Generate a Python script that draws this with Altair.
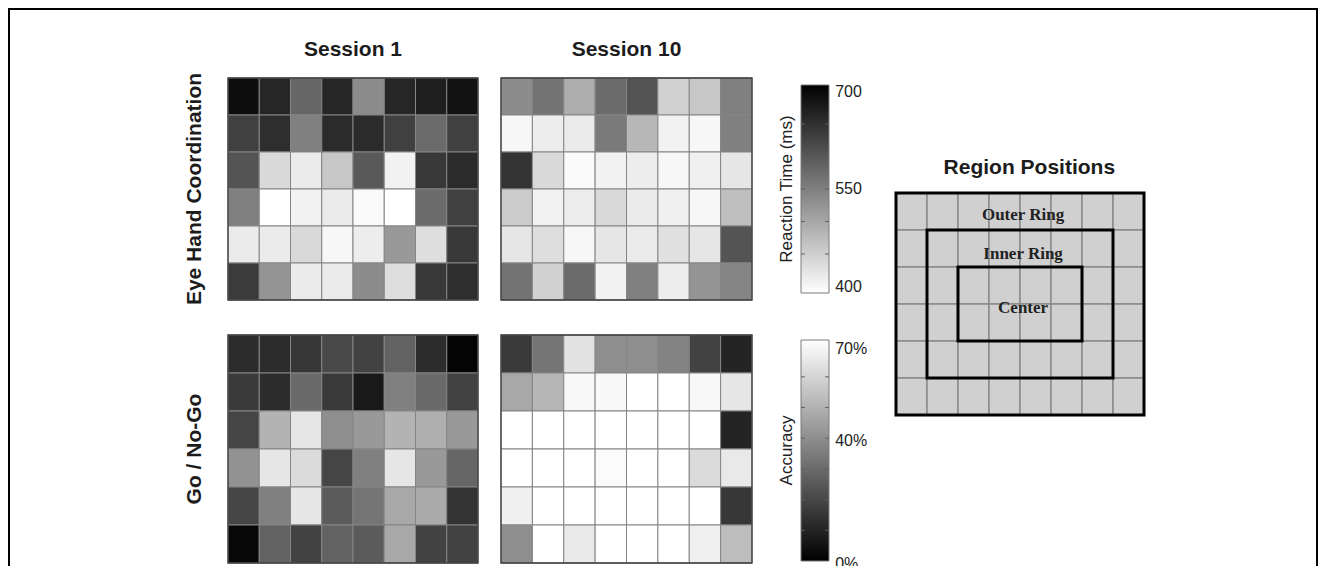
import altair as alt
import pandas as pd

# ---------------- data ----------------
n_cols = 8
n_rows = 6

# Reaction time (ms), Eye Hand Coordination task, rows top -> bottom
rt_session1 = [
    [685, 655, 580, 655, 535, 655, 664, 679],
    [625, 646, 550, 649, 649, 625, 574, 625],
    [601, 445, 424, 466, 595, 415, 634, 649],
    [550, 400, 415, 424, 406, 400, 574, 625],
    [424, 424, 445, 409, 421, 520, 439, 634],
    [631, 526, 424, 424, 535, 439, 634, 646],
]
rt_session10 = [
    [535, 565, 496, 574, 601, 454, 466, 550],
    [409, 421, 424, 556, 484, 415, 409, 550],
    [640, 445, 406, 415, 421, 409, 418, 430],
    [460, 415, 421, 445, 424, 418, 409, 475],
    [430, 439, 409, 430, 424, 436, 430, 601],
    [565, 454, 574, 415, 550, 421, 526, 544],
]
# Accuracy (%), Go / No-Go task
acc_session1 = [
    [12, 12, 15, 20, 18, 27, 12, 1],
    [16, 12, 29, 16, 7, 35, 29, 18],
    [19, 49, 63, 39, 42, 49, 48, 42],
    [40, 63, 60, 19, 35, 63, 42, 28],
    [19, 35, 63, 25, 32, 46, 47, 14],
    [2, 27, 18, 27, 25, 46, 18, 18],
]
acc_session10 = [
    [16, 32, 62, 39, 39, 36, 18, 10],
    [46, 50, 68, 68, 70, 70, 68, 63],
    [70, 70, 70, 70, 70, 70, 70, 10],
    [70, 70, 70, 69, 70, 70, 60, 64],
    [66, 70, 70, 70, 70, 70, 70, 15],
    [39, 70, 64, 70, 70, 70, 66, 52],
]

session_titles = ["Session 1", "Session 10"]
task_labels = ["Eye Hand Coordination", "Go / No-Go"]

rt_title = "Reaction Time (ms)"
rt_color_domain = [400, 700]
rt_limits = [390, 710]
rt_labels = [400, 550, 700]
rt_minor = [450, 500, 550, 600, 650]

acc_title = "Accuracy"
acc_color_domain = [0, 70]
acc_limits = [0, 72]
acc_labels = [0, 40, 70]
acc_minor = [10, 20, 30, 40, 50, 60]

region_title = "Region Positions"
ring_names = ["Outer Ring", "Inner Ring", "Center"]
ring_col_start = [0, 1, 2]
ring_col_end = [8, 7, 6]
ring_row_start = [0, 1, 2]
ring_row_end = [6, 5, 4]

# ---------------- layout ----------------
W, H = 1310, 562
SANS = "Liberation Sans"
SERIF = "Liberation Serif"

# (left, right, top, bottom) in pixels inside the framed view
BOX = {
    "p1": (220, 470, 70, 292),
    "p2": (493, 744, 70, 292),
    "p3": (220, 470, 327, 555),
    "p4": (493, 744, 327, 555),
    "cb1": (793, 821, 77, 285),
    "cb2": (793, 821, 332, 553),
    "region": (888, 1136, 185, 407),
}


def x_scale(left, right, v_left, v_right):
    upp = (v_right - v_left) / (right - left)
    d0 = v_left - left * upp
    return alt.Scale(domain=[d0, d0 + W * upp], nice=False, zero=False)


def y_scale(top, bottom, v_top, v_bottom):
    upp = (v_bottom - v_top) / (bottom - top)
    at_top = v_top - top * upp
    at_bottom = at_top + H * upp
    if at_bottom > at_top:
        return alt.Scale(domain=[at_top, at_bottom], reverse=True, nice=False, zero=False)
    return alt.Scale(domain=[at_bottom, at_top], nice=False, zero=False)


rt_color = alt.Scale(domain=rt_color_domain, range=["white", "black"], interpolate="rgb", clamp=True)
acc_color = alt.Scale(domain=acc_color_domain, range=["black", "white"], interpolate="rgb", clamp=True)


def grid_frame(values):
    return pd.DataFrame(
        [{"col": c, "row": r, "value": v}
         for r, row_vals in enumerate(values) for c, v in enumerate(row_vals)]
    )


def heat_panel(values, box, cscale, title=None, row_label=None):
    l, r, t, b = box
    sx = x_scale(l, r, 0, n_cols)
    sy = y_scale(t, b, 0, n_rows)
    cells = (
        alt.Chart(grid_frame(values))
        .transform_calculate(col2="datum.col + 1", row2="datum.row + 1")
        .mark_rect(stroke="#858585", strokeWidth=1)
        .encode(
            x=alt.X("col:Q", scale=sx, axis=None),
            x2="col2:Q",
            y=alt.Y("row:Q", scale=sy, axis=None),
            y2="row2:Q",
            color=alt.Color("value:Q", scale=cscale, legend=None),
        )
    )
    outline = (
        alt.Chart(pd.DataFrame({"c0": [0], "c1": [n_cols], "r0": [0], "r1": [n_rows]}))
        .mark_rect(filled=False, stroke="#3c3c3c", strokeWidth=1.3)
        .encode(
            x=alt.X("c0:Q", scale=sx, axis=None), x2="c1:Q",
            y=alt.Y("r0:Q", scale=sy, axis=None), y2="r1:Q",
        )
    )
    layers = [cells, outline]
    if title is not None:
        layers.append(
            alt.Chart(pd.DataFrame({"text": [title], "c": [n_cols / 2], "r": [-0.76]}))
            .mark_text(font=SANS, fontSize=21, fontWeight="bold", color="#1c1c1c",
                       align="center", baseline="middle")
            .encode(x=alt.X("c:Q", scale=sx, axis=None),
                    y=alt.Y("r:Q", scale=sy, axis=None), text="text:N")
        )
    if row_label is not None:
        layers.append(
            alt.Chart(pd.DataFrame({"text": [row_label], "c": [-1.06], "r": [n_rows / 2]}))
            .mark_text(font=SANS, fontSize=21, fontWeight="bold", color="#1c1c1c",
                       angle=270, align="center", baseline="middle")
            .encode(x=alt.X("c:Q", scale=sx, axis=None),
                    y=alt.Y("r:Q", scale=sy, axis=None), text="text:N")
        )
    return alt.layer(*layers)


def colorbar(box, limits, stops, labels, fmt, minor, title, label_dy):
    l, r, t, b = box
    sx = x_scale(l, r, 0, 1)
    sy = y_scale(t, b, limits[1], limits[0])
    bar = (
        alt.Chart(pd.DataFrame({"lo": [limits[0]], "hi": [limits[1]], "x0": [0], "x1": [1]}))
        .mark_rect(
            fill=alt.LinearGradient(
                gradient="linear",
                stops=[alt.GradientStop(color=stops[0], offset=0),
                       alt.GradientStop(color=stops[1], offset=1)],
                x1=0, x2=0, y1=1, y2=0,
            ),
            stroke="#7a7a7a", strokeWidth=1,
        )
        .encode(x=alt.X("x0:Q", scale=sx, axis=None), x2="x1:Q",
                y=alt.Y("lo:Q", scale=sy, axis=None), y2="hi:Q")
    )
    tick_df = pd.DataFrame({"v": minor, "a0": 0.0, "a1": 0.14, "b0": 0.86, "b1": 1.0})
    ticks_l = (
        alt.Chart(tick_df).mark_rule(color="#5f5f5f", strokeWidth=1)
        .encode(x=alt.X("a0:Q", scale=sx, axis=None), x2="a1:Q",
                y=alt.Y("v:Q", scale=sy, axis=None))
    )
    ticks_r = (
        alt.Chart(tick_df).mark_rule(color="#5f5f5f", strokeWidth=1)
        .encode(x=alt.X("b0:Q", scale=sx, axis=None), x2="b1:Q",
                y=alt.Y("v:Q", scale=sy, axis=None))
    )
    lab = (
        alt.Chart(pd.DataFrame({"v": labels, "text": [fmt(v) for v in labels], "c": 1.22}))
        .mark_text(font=SANS, fontSize=16, color="#222222", align="left",
                   baseline="middle", dy=label_dy)
        .encode(x=alt.X("c:Q", scale=sx, axis=None),
                y=alt.Y("v:Q", scale=sy, axis=None), text="text:N")
    )
    ttl = (
        alt.Chart(pd.DataFrame({"text": [title], "c": [-0.5],
                                "v": [limits[0] + 0.5 * (limits[1] - limits[0])]}))
        .mark_text(font=SANS, fontSize=17, color="#222222", angle=270,
                   align="center", baseline="middle")
        .encode(x=alt.X("c:Q", scale=sx, axis=None),
                y=alt.Y("v:Q", scale=sy, axis=None), text="text:N")
    )
    return alt.layer(bar, ticks_l, ticks_r, lab, ttl)


def region_panel(box):
    l, r, t, b = box
    sx = x_scale(l, r, 0, n_cols)
    sy = y_scale(t, b, 0, n_rows)
    grid_df = pd.DataFrame([{"col": c, "row": rr} for rr in range(n_rows) for c in range(n_cols)])
    cells = (
        alt.Chart(grid_df)
        .transform_calculate(col2="datum.col + 1", row2="datum.row + 1")
        .mark_rect(fill="#d0d0d0", stroke="#8a8a8a", strokeWidth=1.5)
        .encode(x=alt.X("col:Q", scale=sx, axis=None), x2="col2:Q",
                y=alt.Y("row:Q", scale=sy, axis=None), y2="row2:Q")
    )
    ring_df = pd.DataFrame({
        "name": ring_names, "c0": ring_col_start, "c1": ring_col_end,
        "r0": ring_row_start, "r1": ring_row_end,
        "label_row": [0.6, 1.65, 3.1], "label_col": [4.1, 4.1, 4.1],
    })
    rings = (
        alt.Chart(ring_df).mark_rect(filled=False, stroke="black", strokeWidth=3)
        .encode(x=alt.X("c0:Q", scale=sx, axis=None), x2="c1:Q",
                y=alt.Y("r0:Q", scale=sy, axis=None), y2="r1:Q")
    )
    labels = (
        alt.Chart(ring_df)
        .mark_text(font=SERIF, fontSize=17, fontWeight="bold", color="#222222",
                   align="center", baseline="middle")
        .encode(x=alt.X("label_col:Q", scale=sx, axis=None),
                y=alt.Y("label_row:Q", scale=sy, axis=None), text="name:N")
    )
    ttl = (
        alt.Chart(pd.DataFrame({"text": [region_title], "c": [4.3], "r": [-0.68]}))
        .mark_text(font=SANS, fontSize=21, fontWeight="bold", color="#1c1c1c",
                   align="center", baseline="middle")
        .encode(x=alt.X("c:Q", scale=sx, axis=None),
                y=alt.Y("r:Q", scale=sy, axis=None), text="text:N")
    )
    return alt.layer(cells, rings, labels, ttl)


p1 = heat_panel(rt_session1, BOX["p1"], rt_color, session_titles[0], task_labels[0])
p2 = heat_panel(rt_session10, BOX["p2"], rt_color, session_titles[1])
p3 = heat_panel(acc_session1, BOX["p3"], acc_color, None, task_labels[1])
p4 = heat_panel(acc_session10, BOX["p4"], acc_color)
cb1 = colorbar(BOX["cb1"], rt_limits, ["white", "black"], rt_labels,
               lambda v: f"{v}", rt_minor, rt_title, 0)
cb2 = colorbar(BOX["cb2"], acc_limits, ["black", "white"], acc_labels,
               lambda v: f"{v}%", acc_minor, acc_title, 3)
region = region_panel(BOX["region"])

chart = (
    alt.layer(p1, p2, p3, p4, cb1, cb2, region)
    .resolve_scale(x="independent", y="independent", color="independent")
    .properties(width=W, height=H, padding=0, background="white")
    .configure_view(stroke="black", strokeWidth=4)
)

chart.save("out.html", embed_options={"renderer": "svg", "actions": False})
